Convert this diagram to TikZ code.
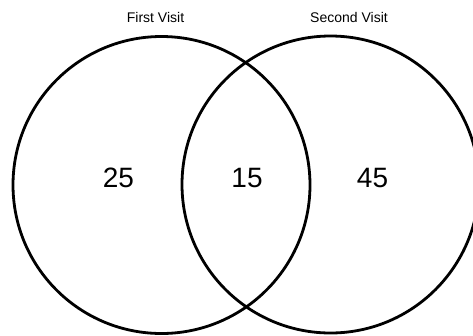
\documentclass[tikz,border=0pt]{standalone}
\usepackage{fontspec}
\setmainfont{Liberation Sans}
\begin{document}
\begin{tikzpicture}[x=1pt,y=-1pt,
  ring/.style={draw=black,line width=2.8pt},
  title/.style={inner sep=0pt,font=\fontsize{14}{16}\selectfont},
  count/.style={inner sep=0pt,font=\fontsize{28}{32}\selectfont}]
\useasboundingbox (0,0) rectangle (473,335);
\begin{scope}
\clip (0,0) rectangle (473,335);
\draw[ring] (161.5,185) circle[radius=148.5];
\draw[ring] (330.5,184.5) circle[radius=148.5];
\end{scope}
\node[title] (t1) at (155.5,17) {First Visit};
\node[title] (t2) at (349,17) {Second Visit};
\node[count] (a) at (118.5,178) {25};
\node[count] (b) at (247,178) {15};
\node[count] (c) at (372.5,178) {45};
\end{tikzpicture}
\end{document}
